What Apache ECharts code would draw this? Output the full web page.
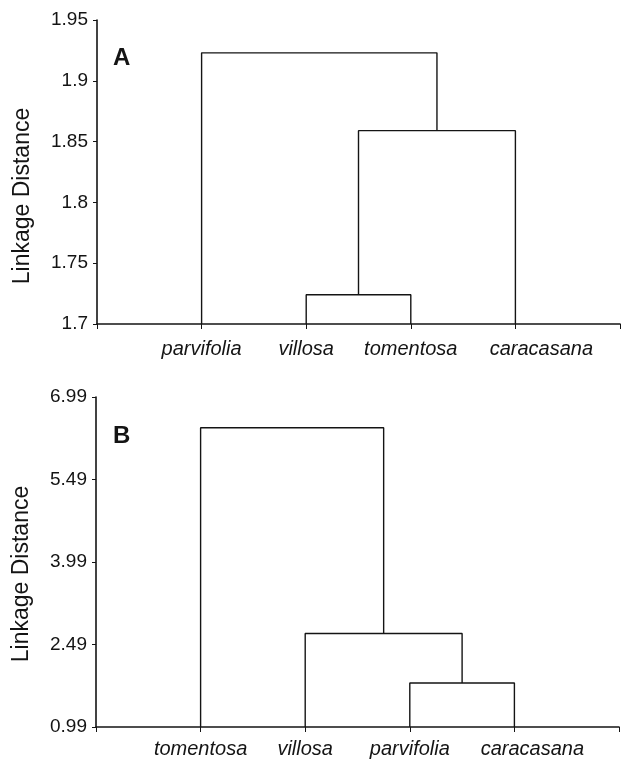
<!DOCTYPE html>
<html>
<head>
<meta charset="utf-8">
<script src="https://cdn.jsdelivr.net/npm/echarts@6/dist/echarts.min.js"></script>
<style>html,body{margin:0;padding:0;background:#fff}#c{width:622px;height:762px}</style>
</head>
<body>
<div id="c"></div>
<script>
// Panel A
const leavesA = ['parvifolia', 'villosa', 'tomentosa', 'caracasana'];
const mergesA = [[1, 2], [4, 3], [0, 5]];        // node ids: leaves 0..3, merges 4..
const heightsA = [1.724, 1.859, 1.923];
const yTicksA = [1.7, 1.75, 1.8, 1.85, 1.9, 1.95];

// Panel B
const leavesB = ['tomentosa', 'villosa', 'parvifolia', 'caracasana'];
const mergesB = [[2, 3], [1, 4], [0, 5]];
const heightsB = [1.79, 2.69, 6.43];
const yTicksB = [0.99, 2.49, 3.99, 5.49, 6.99];

const xTicks = [0, 1, 2, 3, 4, 5];
const xLabelPos = [1, 2, 3, 4];

function links(leaves, merges, heights, base) {
  const nodes = leaves.map((_, i) => ({ x: i + 1, h: base }));
  const out = [];
  merges.forEach(([a, b], k) => {
    const p = nodes[a], q = nodes[b], h = heights[k];
    out.push([[p.x, p.h], [p.x, h], [q.x, h], [q.x, q.h]]);
    nodes.push({ x: (p.x + q.x) / 2, h: h });
  });
  return out;
}

const FONT = '"Liberation Sans", Arial, sans-serif';
const INK = '#141414';

function xAxis(gridIndex, leaves, lastPad, margin) {
  return {
    type: 'value', gridIndex: gridIndex, min: 0, max: 5,
    splitLine: { show: false },
    axisLine: { lineStyle: { color: INK, width: 1.6 } },
    axisTick: { customValues: xTicks, length: 5, lineStyle: { color: INK, width: 1 } },
    axisLabel: {
      customValues: xLabelPos, margin: margin, color: INK,
      fontFamily: FONT, fontSize: 20, fontStyle: 'italic',
      formatter: v => {
        const i = Math.round(v) - 1;
        return i === 3 ? '{l|' + leaves[i] + '}' : leaves[i];
      },
      rich: { l: { fontFamily: FONT, fontSize: 20, fontStyle: 'italic', color: INK, padding: [0, 0, 0, lastPad] } }
    }
  };
}

function yAxis(gridIndex, min, max, ticks, dec) {
  return {
    type: 'value', gridIndex: gridIndex, min: min, max: max,
    splitLine: { show: false },
    axisLine: { show: true, lineStyle: { color: INK, width: 1.6 } },
    axisTick: { show: true, customValues: ticks, length: 4, lineStyle: { color: INK, width: 1 } },
    axisLabel: {
      customValues: ticks, margin: 9, color: INK, fontFamily: FONT, fontSize: 19,
      formatter: v => String(+v.toFixed(dec))
    }
  };
}

const series = [];
links(leavesA, mergesA, heightsA, yTicksA[0]).forEach(d => series.push({
  type: 'line', xAxisIndex: 0, yAxisIndex: 0, data: d, symbol: 'none',
  lineStyle: { color: INK, width: 1.4 }, silent: true
}));
links(leavesB, mergesB, heightsB, yTicksB[0]).forEach(d => series.push({
  type: 'line', xAxisIndex: 1, yAxisIndex: 1, data: d, symbol: 'none',
  lineStyle: { color: INK, width: 1.4 }, silent: true
}));

const chart = echarts.init(document.getElementById('c'), null, { renderer: 'canvas' });
chart.setOption({
  animation: false,
  backgroundColor: '#fff',
  grid: [
    { left: 97, top: 20, width: 523, height: 304 },
    { left: 96, top: 397, width: 523, height: 330 }
  ],
  xAxis: [xAxis(0, leavesA, 52, 15), xAxis(1, leavesB, 36, 12)],
  yAxis: [yAxis(0, 1.7, 1.95, yTicksA, 2), yAxis(1, 0.99, 6.99, yTicksB, 2)],
  series: series,
  graphic: [
    { type: 'text', left: 113, top: 46, style: { text: 'A', fontFamily: FONT, fontWeight: 'bold', fontSize: 24, fill: INK } },
    { type: 'text', left: 113, top: 424, style: { text: 'B', fontFamily: FONT, fontWeight: 'bold', fontSize: 24, fill: INK } },
    { type: 'text', x: 23, y: 196, rotation: Math.PI / 2,
      style: { text: 'Linkage Distance', fontFamily: FONT, fontSize: 23, fill: INK, align: 'center', verticalAlign: 'middle' } },
    { type: 'text', x: 22, y: 574, rotation: Math.PI / 2,
      style: { text: 'Linkage Distance', fontFamily: FONT, fontSize: 23, fill: INK, align: 'center', verticalAlign: 'middle' } }
  ]
});
</script>
</body>
</html>
